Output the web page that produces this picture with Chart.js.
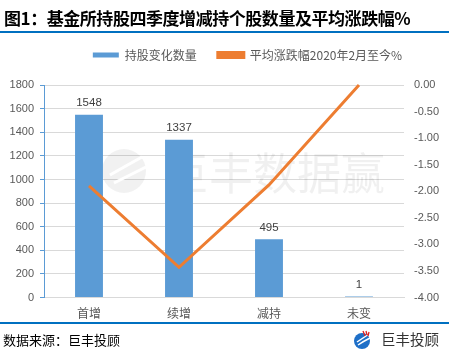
<!DOCTYPE html>
<html>
<head>
<meta charset="utf-8">
<script src="https://cdn.jsdelivr.net/npm/chart.js@4/dist/chart.umd.min.js"></script>
<style>
  html, body { margin: 0; padding: 0; background: #fff; }
  #wrap { position: relative; width: 449px; height: 357px; overflow: hidden; }
  #c { position: absolute; left: 0; top: 0; }
  #title { position: absolute; left: 4px; top: 8px; font-family: "Noto Sans CJK SC", sans-serif; font-weight: 700; font-size: 17px; line-height: 20px; color: #000; white-space: nowrap; letter-spacing: -0.45px; }
  #tline { position: absolute; left: 0; top: 31px; width: 449px; height: 2px; background: #0070C0; }
  #fline { position: absolute; left: 0; top: 322px; width: 449px; height: 2px; background: #0070C0; }
  #src { position: absolute; left: 3px; top: 331px; font-family: "Noto Sans CJK SC", sans-serif; font-size: 13px; line-height: 18px; color: #000; white-space: nowrap; }
  #logo { position: absolute; left: 353px; top: 330px; width: 18px; height: 20px; }
  #logotxt { position: absolute; left: 381px; top: 329px; font-family: "Noto Sans CJK SC", sans-serif; font-size: 14.5px; line-height: 20px; color: #333; white-space: nowrap; }
</style>
</head>
<body>
<div id="wrap">
  <canvas id="c" width="449" height="357"></canvas>
  <div id="title">图1：基金所持股四季度增减持个股数量及平均涨跌幅%</div>
  <div id="tline"></div>
  <div id="fline"></div>
  <div id="src">数据来源：巨丰投顾</div>
  <svg id="logo" viewBox="0 0 18 20">
    <circle cx="9" cy="11" r="8" fill="#1E6FC8"/>
    <path d="M4 12 Q10 8 16 4" stroke="#fff" stroke-width="1.5" fill="none"/>
    <path d="M5 15 Q11 11 17 8" stroke="#fff" stroke-width="1.5" fill="none"/>
    <path d="M10 1 L12 6 M13 1 L14 5 M16 2 L15 6" stroke="#E02020" stroke-width="1.3"/>
  </svg>
  <div id="logotxt">巨丰投顾</div>
</div>
<script>
const categories = ["首增", "续增", "减持", "未变"];
const barValues = [1548, 1337, 495, 1];
const lineValues = [-1.9, -3.43, -1.88, 0.0];
const barLabel = "持股变化数量";
const lineLabel = "平均涨跌幅2020年2月至今%";

const legendGapPlugin = {
  id: 'legendGap',
  beforeLayout(chart) {
    const lg = chart.legend;
    if (lg && !lg._gapPatched) {
      const f = lg.fit;
      lg.fit = function () { f.call(this); this.height += 14; };
      const d = lg.draw;
      lg.draw = function () {
        const ctx = this.ctx;
        ctx.save();
        ctx.translate(23, 0);
        d.apply(this, arguments);
        ctx.restore();
      };
      lg._gapPatched = true;
    }
  }
};

const watermarkPlugin = {
  id: 'watermark',
  beforeDatasetsDraw(chart) {
    const ctx = chart.ctx;
    const a = chart.chartArea;
    const cx = a.left + 80, cy = a.top + 86;
    ctx.save();
    ctx.fillStyle = 'rgba(0,0,0,0.055)';
    ctx.beginPath();
    ctx.arc(cx, cy, 22, 0, Math.PI * 2);
    ctx.fill();
    ctx.strokeStyle = '#ffffff';
    ctx.lineWidth = 3;
    ctx.beginPath();
    ctx.moveTo(cx - 14, cy + 4); ctx.quadraticCurveTo(cx, cy - 4, cx + 18, cy - 14);
    ctx.moveTo(cx - 10, cy + 12); ctx.quadraticCurveTo(cx + 6, cy + 4, cx + 22, cy - 4);
    ctx.stroke();
    ctx.fillStyle = 'rgba(0,0,0,0.06)';
    ctx.font = '44px "Noto Sans CJK SC"';
    ctx.textBaseline = 'middle';
    ctx.textAlign = 'left';
    ctx.fillText('巨丰数据赢', a.left + 121, a.top + 88);
    ctx.restore();
  }
};

const dataLabelPlugin = {
  id: 'dataLabels',
  afterDatasetsDraw(chart) {
    const ctx = chart.ctx;
    const meta = chart.getDatasetMeta(0);
    ctx.save();
    ctx.font = '11.5px "Liberation Sans", sans-serif';
    ctx.fillStyle = '#404040';
    ctx.textAlign = 'center';
    ctx.textBaseline = 'bottom';
    meta.data.forEach((bar, i) => {
      ctx.fillText(String(barValues[i]), bar.x, bar.y - 6);
    });
    ctx.restore();
  }
};

new Chart(document.getElementById('c'), {
  type: 'bar',
  data: {
    labels: categories,
    datasets: [
      {
        type: 'bar',
        label: barLabel,
        data: barValues,
        backgroundColor: '#5B9BD5',
        yAxisID: 'y',
        barPercentage: 0.31,
        categoryPercentage: 1.0,
        minBarLength: 1,
        order: 2
      },
      {
        type: 'line',
        label: lineLabel,
        data: lineValues,
        borderColor: '#ED7D31',
        backgroundColor: '#ED7D31',
        borderWidth: 3,
        pointRadius: 0,
        tension: 0,
        yAxisID: 'y1',
        order: 1,
        clip: false
      }
    ]
  },
  options: {
    responsive: false,
    animation: false,
    devicePixelRatio: 1,
    layout: { padding: { top: 28, bottom: 27, left: 0, right: 0 } },
    plugins: {
      legend: {
        display: true,
        position: 'top',
        labels: {
          boxWidth: 26,
          boxHeight: 5,
          padding: 21,
          color: '#595959',
          font: { family: '"Noto Sans CJK SC", sans-serif', size: 12 },
          sort: (a, b) => a.datasetIndex - b.datasetIndex
        }
      },
      tooltip: { enabled: false }
    },
    scales: {
      x: {
        grid: { display: false, drawTicks: false },
        border: { display: true, color: '#D9D9D9', width: 1 },
        ticks: {
          color: '#595959',
          padding: 9,
          font: { family: '"Noto Sans CJK SC", sans-serif', size: 12 }
        }
      },
      y: {
        position: 'left',
        min: 0,
        max: 1800,
        ticks: {
          stepSize: 200,
          color: '#595959',
          padding: 6,
          font: { family: '"Liberation Sans", sans-serif', size: 11 },
          callback: v => String(v)
        },
        grid: { color: '#D9D9D9', tickLength: 4, tickColor: '#5B9BD5' },
        border: { display: true, color: '#5B9BD5', width: 1 },
        afterFit(scale) { scale.width = 44; }
      },
      y1: {
        position: 'right',
        min: -4,
        max: 0,
        ticks: {
          stepSize: 0.5,
          color: '#595959',
          padding: 10,
          font: { family: '"Liberation Sans", sans-serif', size: 11 },
          callback: v => Number(v).toFixed(2)
        },
        grid: { display: false, drawTicks: false },
        border: { display: false },
        afterFit(scale) { scale.width = 45; }
      }
    }
  },
  plugins: [legendGapPlugin, watermarkPlugin, dataLabelPlugin]
});
</script>
</body>
</html>
